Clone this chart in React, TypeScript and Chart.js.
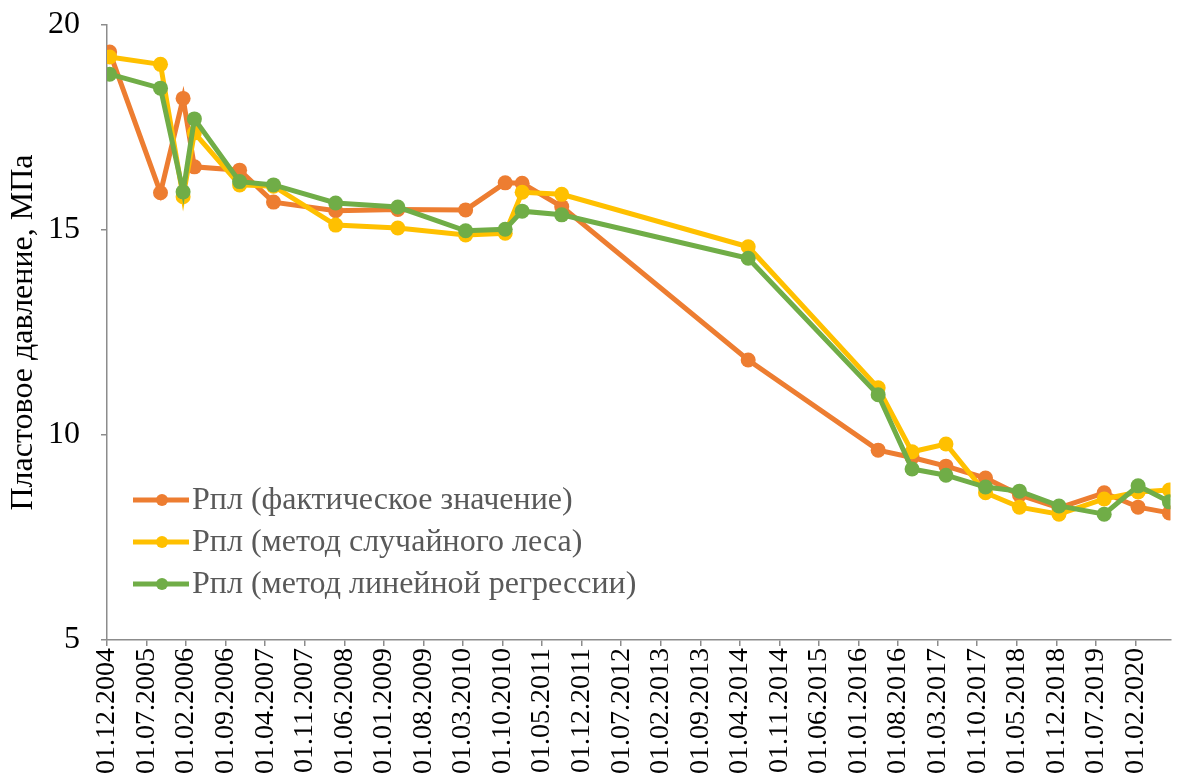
import React, { useEffect, useRef } from "react";
import { Chart, registerables } from "chart.js";

Chart.register(...registerables);

// Measurement dates (DD.MM.YYYY)
const dates = [
  "15.12.2004", "15.09.2005", "15.01.2006", "15.03.2006", "15.11.2006",
  "15.05.2007", "15.04.2008", "15.03.2009", "15.03.2010", "15.10.2010",
  "15.01.2011", "15.08.2011", "15.05.2014", "15.04.2016", "15.10.2016",
  "15.04.2017", "15.11.2017", "15.05.2018", "15.12.2018", "15.08.2019",
  "15.02.2020", "01.08.2020",
];

// Рпл (фактическое значение)
const factValues = [
  19.34, 15.91, 18.21, 16.54, 16.46, 15.68, 15.47, 15.5, 15.49, 16.15,
  16.14, 15.57, 11.83, 9.63, 9.45, 9.24, 8.95, 8.54, 8.22, 8.59, 8.24, 8.1,
];

// Рпл (метод случайного леса)
const forestValues = [
  19.22, 19.04, 15.81, 17.37, 16.1, 16.07, 15.12, 15.05, 14.88, 14.92,
  15.92, 15.87, 14.59, 11.15, 9.59, 9.78, 8.59, 8.24, 8.07, 8.44, 8.61, 8.66,
];

// Рпл (метод линейной регрессии)
const regressionValues = [
  18.8, 18.46, 15.93, 17.71, 16.18, 16.1, 15.66, 15.56, 14.98, 15.02,
  15.46, 15.37, 14.31, 10.98, 9.17, 9.02, 8.73, 8.63, 8.27, 8.07, 8.76, 8.37,
];

const seriesNames = [
  "Рпл (фактическое значение)",
  "Рпл (метод случайного леса)",
  "Рпл (метод линейной регрессии)",
];

const tickLabels = [
  "01.12.2004", "01.07.2005", "01.02.2006", "01.09.2006", "01.04.2007",
  "01.11.2007", "01.06.2008", "01.01.2009", "01.08.2009", "01.03.2010",
  "01.10.2010", "01.05.2011", "01.12.2011", "01.07.2012", "01.02.2013",
  "01.09.2013", "01.04.2014", "01.11.2014", "01.06.2015", "01.01.2016",
  "01.08.2016", "01.03.2017", "01.10.2017", "01.05.2018", "01.12.2018",
  "01.07.2019", "01.02.2020",
];

const yTicks = [5, 10, 15, 20];
const yTitle = "Пластовое давление, МПа";

const colors = ["#ED7D31", "#FFC000", "#70AD47"];

function toMonths(d: string): number {
  const [dd, mm, yy] = d.split(".").map(Number);
  return (yy - 2004) * 12 + (mm - 12) + (dd - 1) / 30;
}

const FONT = '"Liberation Serif", "Times New Roman", serif';

const legendPlugin = {
  id: "customLegend",
  afterDraw(chart: any) {
    const ctx = chart.ctx;
    const left = chart.chartArea.left;
    const rowY = [500, 542, 584];
    chart.data.datasets.forEach((ds: any, i: number) => {
      const y = rowY[i];
      ctx.save();
      ctx.strokeStyle = ds.borderColor;
      ctx.lineWidth = 5;
      ctx.lineCap = "butt";
      ctx.beginPath();
      ctx.moveTo(left + 26, y);
      ctx.lineTo(left + 82, y);
      ctx.stroke();
      ctx.fillStyle = ds.borderColor;
      ctx.beginPath();
      ctx.arc(left + 55, y, 6, 0, Math.PI * 2);
      ctx.fill();
      ctx.fillStyle = "#595959";
      ctx.font = `32px ${FONT}`;
      ctx.textBaseline = "middle";
      ctx.textAlign = "left";
      ctx.fillText(ds.label, left + 85, y + 1);
      ctx.restore();
    });
  },
};

export default function App() {
  const ref = useRef<HTMLCanvasElement | null>(null);

  useEffect(() => {
    if (!ref.current) return;
    const xs = dates.map(toMonths);
    const series = [factValues, forestValues, regressionValues];
    const chart = new Chart(ref.current, {
      type: "line",
      data: {
        datasets: series.map((vals, i) => ({
          label: seriesNames[i],
          data: vals.map((v, j) => ({ x: xs[j], y: v })),
          borderColor: colors[i],
          backgroundColor: colors[i],
          pointBackgroundColor: colors[i],
          pointBorderColor: colors[i],
          pointBorderWidth: 0,
          pointRadius: 7.5,
          borderWidth: 5,
          tension: 0,
          order: 2 - i,
        })),
      },
      options: {
        responsive: false,
        animation: false,
        layout: { padding: { top: 25, right: 0, left: 0, bottom: 0 } },
        plugins: {
          legend: { display: false },
          tooltip: { enabled: false },
        },
        scales: {
          x: {
            type: "linear",
            min: 0,
            max: 188.2,
            afterBuildTicks: (scale: any) => {
              scale.ticks = tickLabels.map((l) => ({ value: toMonths(l) }));
            },
            afterFit: (scale: any) => {
              scale.height = 136;
              scale.paddingTop = 0;
              scale.paddingBottom = 0;
            },
            ticks: {
              autoSkip: false,
              minRotation: 90,
              maxRotation: 90,
              padding: 2,
              color: "#000000",
              font: { family: FONT, size: 28 },
              callback: (_v: any, i: number) => tickLabels[i],
            },
            grid: {
              display: true,
              drawOnChartArea: false,
              drawTicks: true,
              tickLength: 6,
              color: "#8C8C8C",
              lineWidth: 1.5,
            },
            border: { display: true, color: "#8C8C8C", width: 1.5 },
          },
          y: {
            min: 5,
            max: 20,
            afterBuildTicks: (scale: any) => {
              scale.ticks = yTicks.map((v) => ({ value: v }));
            },
            afterFit: (scale: any) => {
              scale.width = 107;
              scale.paddingTop = 0;
              scale.paddingBottom = 0;
            },
            ticks: {
              padding: 21,
              color: "#000000",
              font: { family: FONT, size: 32 },
            },
            title: {
              display: true,
              text: yTitle,
              color: "#000000",
              font: { family: FONT, size: 32 },
              padding: { top: 4, bottom: 0 },
            },
            grid: {
              display: true,
              drawOnChartArea: false,
              drawTicks: true,
              tickLength: 6,
              color: "#8C8C8C",
              lineWidth: 1.5,
            },
            border: { display: true, color: "#8C8C8C", width: 1.5 },
          },
        },
      },
      plugins: [legendPlugin],
    } as any);
    return () => chart.destroy();
  }, []);

  return (
    <div
      style={{
        position: "fixed",
        left: 0,
        top: 0,
        width: 1178,
        height: 776,
        background: "#ffffff",
      }}
    >
      <canvas ref={ref} width={1178} height={776} style={{ display: "block" }} />
    </div>
  );
}
